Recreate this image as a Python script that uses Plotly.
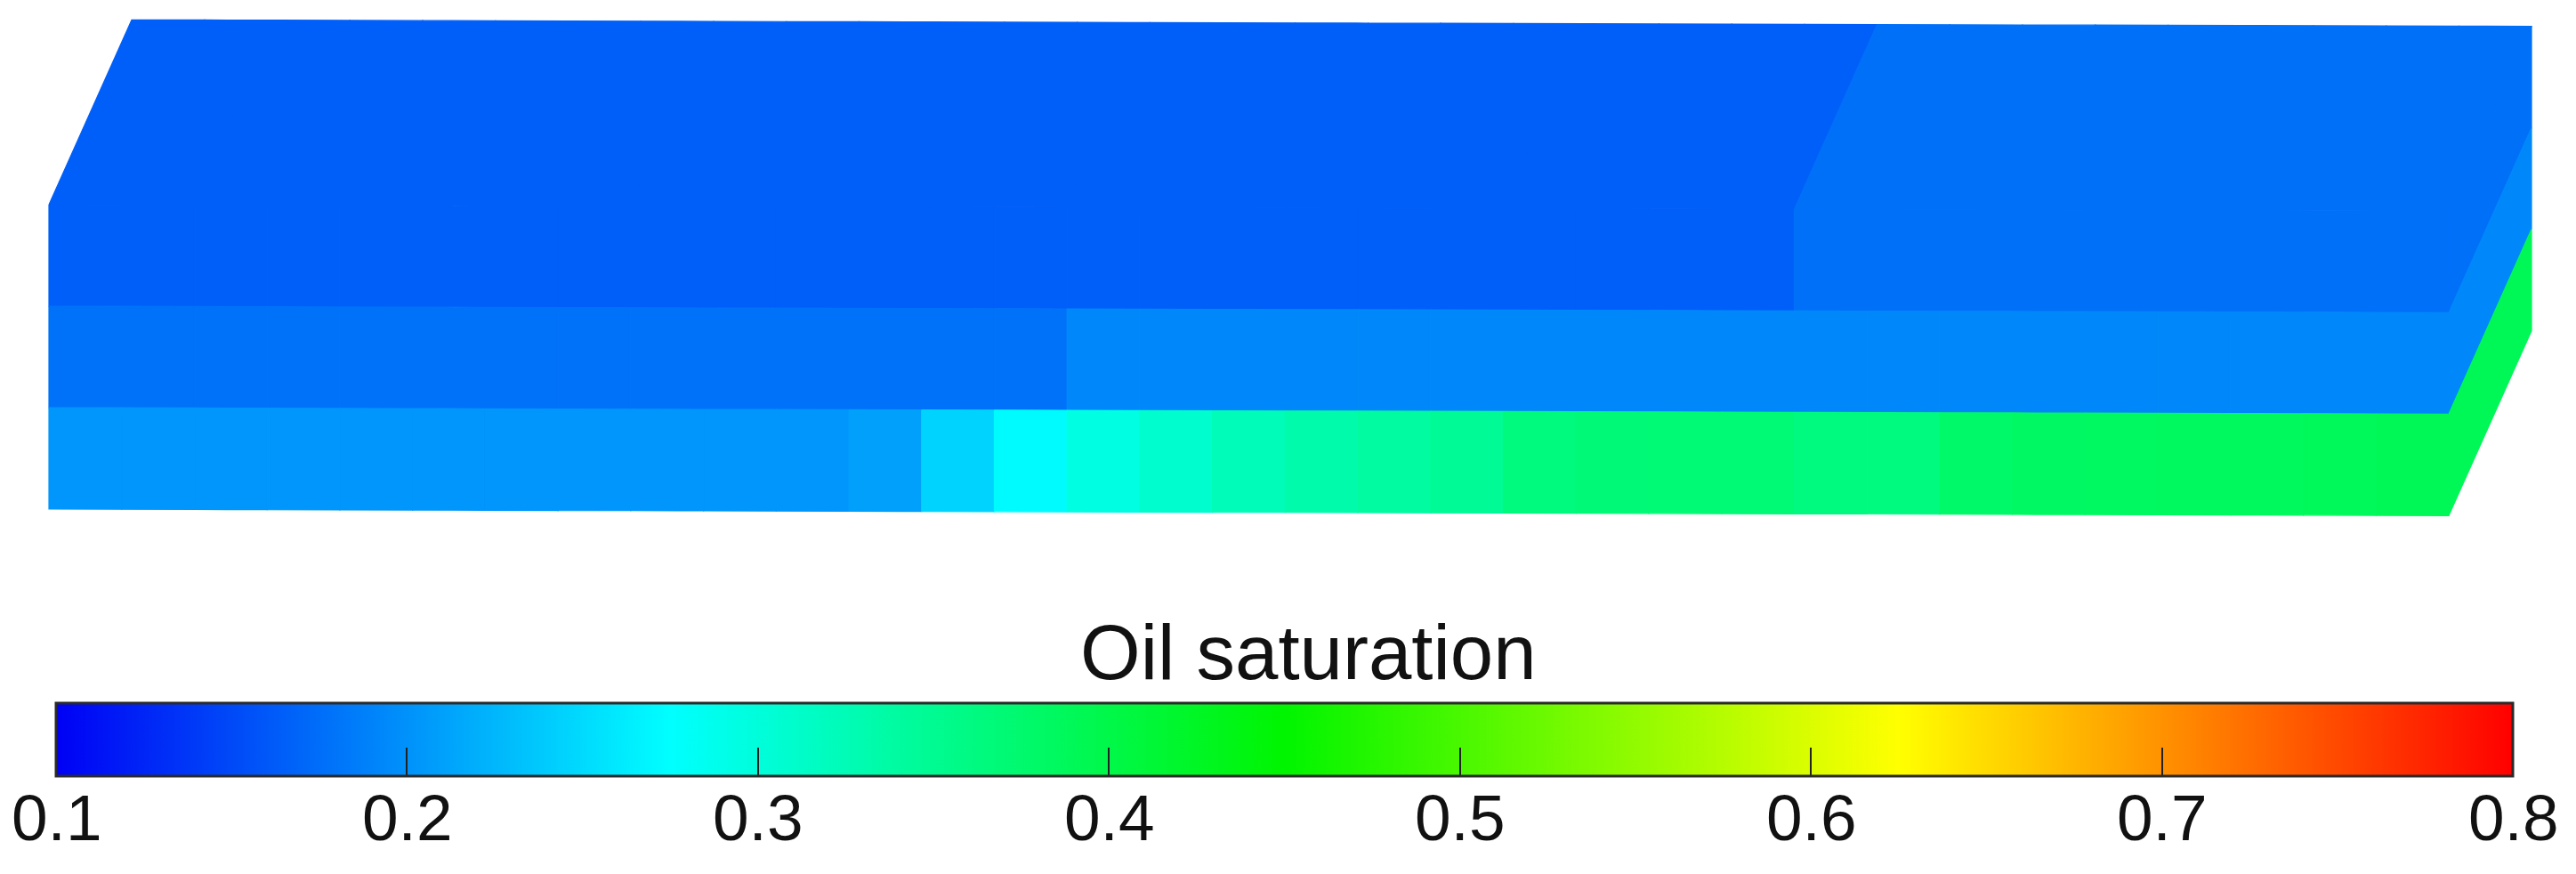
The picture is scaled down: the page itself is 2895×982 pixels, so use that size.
import plotly.graph_objects as go
from plotly.colors import sample_colorscale

# ---------------- data ----------------
N_COLUMNS = 33
layer_names = ["Layer 1", "Layer 2", "Layer 3"]
# oil saturation per grid column (left -> right)
layer1_so = [0.165] * 24 + [0.177] * 9
layer2_so = [0.178] * 14 + [0.193] * 19
layer3_so = [0.203] * 11 + [0.21, 0.245, 0.272, 0.295, 0.309, 0.323, 0.333, 0.34,
                             0.347, 0.364, 0.368, 0.37, 0.37, 0.362, 0.362, 0.378,
                             0.382, 0.384, 0.385, 0.386, 0.388, 0.39]
layers_so = [layer1_so, layer2_so, layer3_so]

tick_values = [0.1, 0.2, 0.3, 0.4, 0.5, 0.6, 0.7, 0.8]
tick_labels = ["0.1", "0.2", "0.3", "0.4", "0.5", "0.6", "0.7", "0.8"]
colorbar_title = "Oil saturation"
SO_MIN, SO_MAX = 0.1, 0.8

# ---------------- style / projection ----------------
PAGE_W, PAGE_H = 2895, 982
BODY_MARGIN = 8  # default browser body margin around the plot div
W, H = PAGE_W - BODY_MARGIN, PAGE_H - BODY_MARGIN
FONT = "Liberation Sans, Arial"
COLORSCALE = [[0.0, "rgb(0,0,245)"], [0.25, "rgb(0,255,255)"], [0.5, "rgb(0,245,0)"],
              [0.75, "rgb(255,255,0)"], [1.0, "rgb(255,0,0)"]]
X_LEFT, X_RIGHT = 55.0, 2752.0
Z_TOP, LAYER_H = 230.0, 114.0
DEPTH_DX, DEPTH_DY = 93.0, -208.0
SHEAR = 0.0027
COL_W = (X_RIGHT - X_LEFT) / N_COLUMNS
CB_LEFT, CB_RIGHT = 63.0, 2824.0
CB_TOP = 790.0


def proj(i, k, d):
    """grid column edge i, layer edge k, depth fraction d -> page coords"""
    x = X_LEFT + i * COL_W + d * DEPTH_DX
    y = Z_TOP + k * LAYER_H + d * DEPTH_DY + SHEAR * (x - X_LEFT)
    return x, y


def color_of(v):
    return sample_colorscale(COLORSCALE, [(v - SO_MIN) / (SO_MAX - SO_MIN)])[0]


def add_poly(fig, pts, v, name):
    xs = [p[0] for p in pts] + [pts[0][0]]
    ys = [p[1] for p in pts] + [pts[0][1]]
    c = color_of(v)
    fig.add_trace(go.Scatter(x=xs, y=ys, mode="lines", fill="toself", fillcolor=c,
                             line=dict(color=c, width=1.2), hoverinfo="text",
                             text=f"{name}: So={v:.3f}", showlegend=False))


fig = go.Figure()

# colorbar carrier (invisible markers)
all_vals = [v for lay in layers_so for v in lay]
fig.add_trace(go.Scatter(
    x=[proj(i + 0.5, 1.5, 0)[0] for i in range(N_COLUMNS)] * 3,
    y=[proj(0, 1.5, 0)[1]] * (3 * N_COLUMNS),
    mode="markers", hoverinfo="skip", showlegend=False,
    marker=dict(size=0, color=all_vals, colorscale=COLORSCALE, cmin=SO_MIN, cmax=SO_MAX,
                showscale=True,
                colorbar=dict(orientation="h",
                              x=((CB_LEFT + CB_RIGHT) / 2 - BODY_MARGIN) / W, xanchor="center",
                              y=1 - (CB_TOP - BODY_MARGIN) / H, yanchor="top",
                              len=CB_RIGHT - CB_LEFT, lenmode="pixels",
                              thickness=82, thicknessmode="pixels", xpad=0, ypad=0,
                              outlinewidth=3, outlinecolor="#2a2a2a",
                              tickmode="array", tickvals=tick_values, ticktext=tick_labels,
                              ticks="inside", ticklen=33, tickwidth=2, tickcolor="#222",
                              showticklabels=False)),
))

# front faces
for k, lay in enumerate(layers_so):
    for i, v in enumerate(lay):
        add_poly(fig, [proj(i, k, 0), proj(i + 1, k, 0), proj(i + 1, k + 1, 0), proj(i, k + 1, 0)],
                 v, f"{layer_names[k]} col {i + 1}")
# top face
for i, v in enumerate(layer1_so):
    add_poly(fig, [proj(i, 0, 0), proj(i + 1, 0, 0), proj(i + 1, 0, 1), proj(i, 0, 1)],
             v, f"Top col {i + 1}")
# right face
for k, lay in enumerate(layers_so):
    add_poly(fig, [proj(N_COLUMNS, k, 0), proj(N_COLUMNS, k, 1), proj(N_COLUMNS, k + 1, 1),
                   proj(N_COLUMNS, k + 1, 0)], lay[-1], f"{layer_names[k]} right")

# colorbar tick labels, positioned by the colorbar's linear scale
for v, t in zip(tick_values, tick_labels):
    xpos = CB_LEFT + (v - SO_MIN) / (SO_MAX - SO_MIN) * (CB_RIGHT - CB_LEFT)
    fig.add_annotation(text=t, x=xpos, y=918, xref="x", yref="y",
                       xanchor="center", yanchor="middle", showarrow=False,
                       font=dict(family=FONT, size=73, color="#111"))

fig.add_annotation(text=colorbar_title, x=1470, y=732, xref="x", yref="y",
                   xanchor="center", yanchor="middle", showarrow=False,
                   font=dict(family=FONT, size=87, color="#111"))

fig.update_layout(
    width=W, height=H, margin=dict(l=0, r=0, t=0, b=0),
    paper_bgcolor="white", plot_bgcolor="white",
    xaxis=dict(range=[BODY_MARGIN, PAGE_W], visible=False, fixedrange=True),
    yaxis=dict(range=[PAGE_H, BODY_MARGIN], visible=False, fixedrange=True),
    showlegend=False,
)

fig.write_html("out.html")
